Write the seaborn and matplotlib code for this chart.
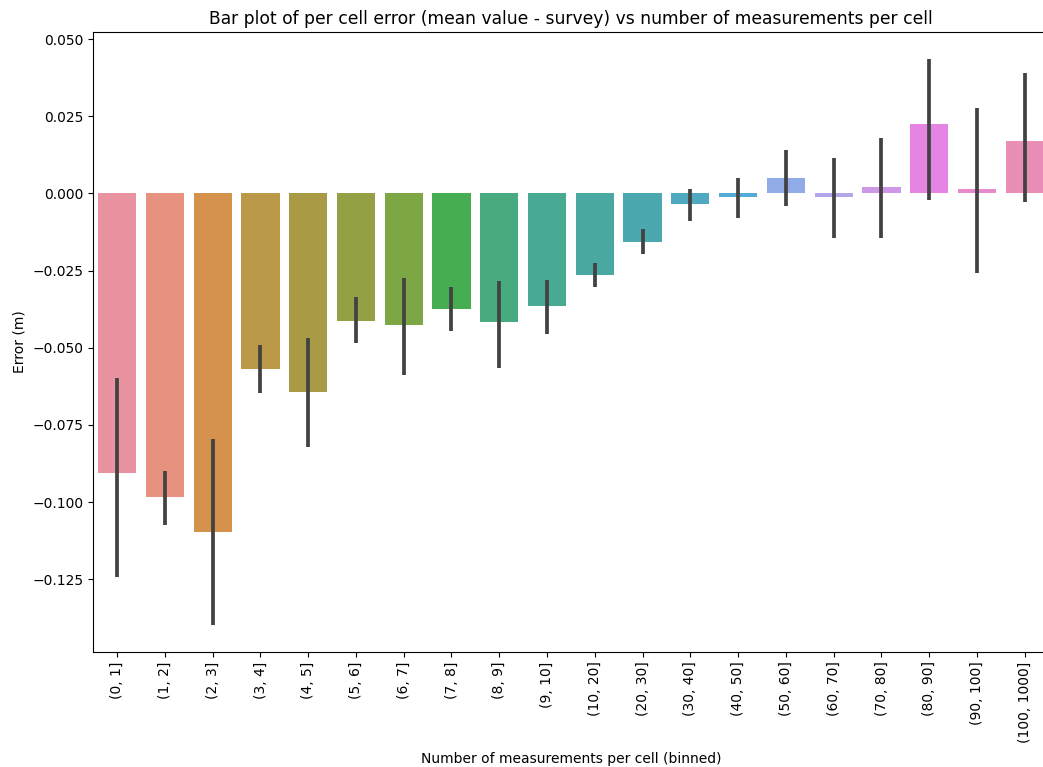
import matplotlib
matplotlib.use("Agg")
import matplotlib.pyplot as plt
import seaborn as sns
import pandas as pd
import numpy as np

# Binned measurement counts per cell
bins = ["(0, 1]", "(1, 2]", "(2, 3]", "(3, 4]", "(4, 5]", "(5, 6]", "(6, 7]",
        "(7, 8]", "(8, 9]", "(9, 10]", "(10, 20]", "(20, 30]", "(30, 40]",
        "(40, 50]", "(50, 60]", "(60, 70]", "(70, 80]", "(80, 90]",
        "(90, 100]", "(100, 1000]"]

# Mean per-cell error (m)
mean_error = [-0.0905, -0.0984, -0.1097, -0.0569, -0.0643, -0.0414, -0.0427,
              -0.0375, -0.0417, -0.0366, -0.0264, -0.0156, -0.0035, -0.0011,
              0.0049, -0.0011, 0.0021, 0.0224, 0.0014, 0.0170]

# 95% confidence interval bounds
ci_low = [-0.1244, -0.1073, -0.1399, -0.0646, -0.0821, -0.0486, -0.0589,
          -0.0445, -0.0566, -0.0454, -0.0304, -0.0197, -0.0089, -0.0081,
          -0.0041, -0.0143, -0.0146, -0.0022, -0.0258, -0.0028]
ci_high = [-0.0597, -0.0899, -0.0797, -0.0492, -0.0468, -0.0336, -0.0275,
           -0.0303, -0.0285, -0.0280, -0.0227, -0.0116, 0.0013, 0.0049,
           0.0140, 0.0115, 0.0178, 0.0435, 0.0277, 0.0389]

yticks = [-0.125, -0.100, -0.075, -0.050, -0.025, 0.000, 0.025, 0.050]

df = pd.DataFrame({"bin": bins, "error": mean_error})

fig = plt.figure(figsize=(10.43, 7.67), dpi=100)
ax = fig.add_axes([93.2 / 1043, 115.3 / 767, 955.4 / 1043, 619.4 / 767])

palette = sns.husl_palette(len(bins), h=.01, s=.9, l=.69)
sns.barplot(data=df, x="bin", y="error", hue="bin", palette=palette,
            legend=False, errorbar=None, ax=ax)

xpos = np.arange(len(bins))
ax.vlines(xpos, ci_low, ci_high, color=".26", linewidth=2.7, zorder=3)

ax.set_xlim(-0.5, len(bins) - 0.5)
ax.set_ylim(-0.1485, 0.0522)
ax.set_yticks(yticks)
ax.set_yticklabels([f"{v:.3f}".replace("-", "\u2212") for v in yticks])
ax.tick_params(axis="x", labelrotation=90)

ax.set_title("Bar plot of per cell error (mean value - survey) vs number of measurements per cell",
             fontsize=12.3)
ax.set_xlabel("Number of measurements per cell (binned)", labelpad=7)
ax.set_ylabel("Error (m)")

fig.savefig("out.png", dpi=100)
